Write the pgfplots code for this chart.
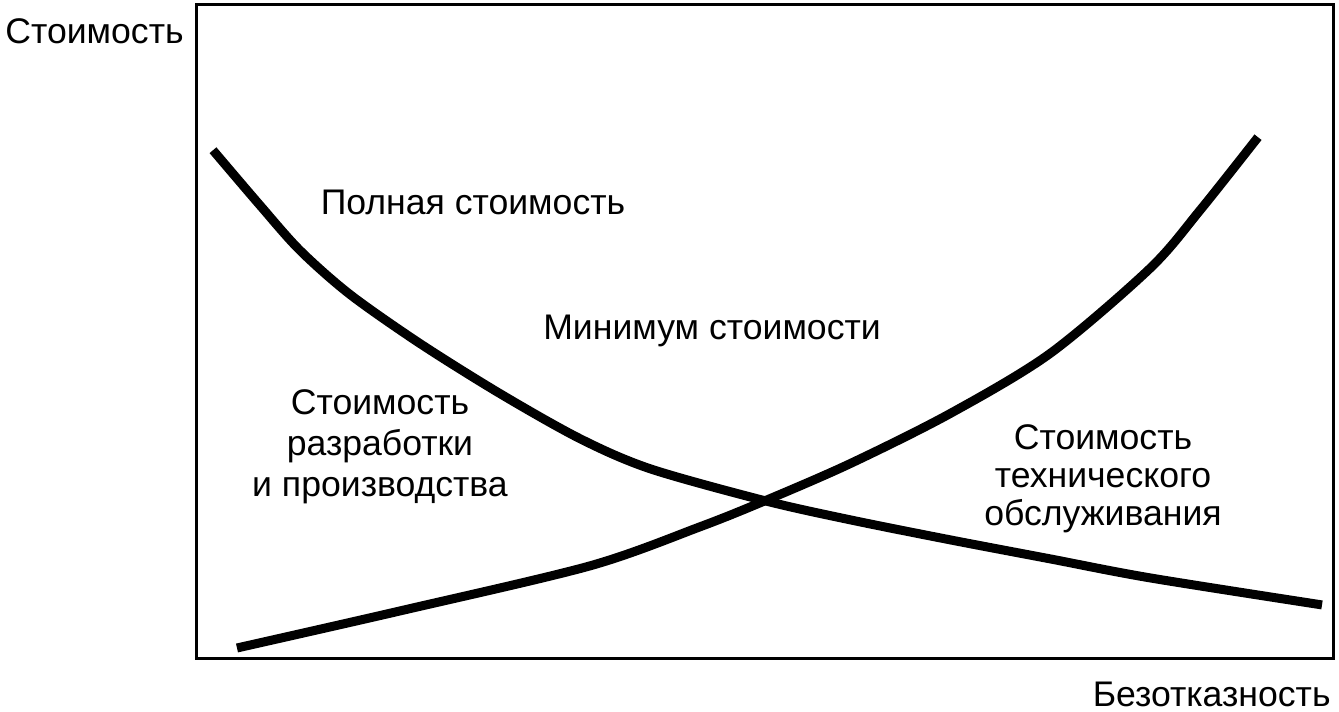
\documentclass[border=0pt]{standalone}
\usepackage{pgfplots}
\pgfplotsset{compat=1.18}
\usepackage{fontspec}
\setmainfont{Liberation Sans}
\begin{document}
\begin{tikzpicture}
\begin{axis}[
  scale only axis, width=568pt, height=327pt,
  xmin=197, xmax=1333, ymin=4, ymax=657, y dir=reverse,
  xtick=\empty, ytick=\empty, clip=false,
  axis line style={line width=1.5pt},
  font=\fontsize{17.8}{20.5}\selectfont
]
\path (axis cs:0,0) rectangle (axis cs:1339,710);
\addplot[line width=4.5pt, smooth, tension=0.5] coordinates {
(213,150) (260,205) (300,250) (350,294) (420,343) (500,393) (580,438) (650,468) (765,500) (850,519) (950,539) (1050,558) (1150,577) (1322,604)};
\addplot[line width=4.5pt, smooth, tension=0.5] coordinates {
(237,647) (400,610) (590,565) (700,526) (765,500) (850,463) (950,413) (1050,353) (1150,268) (1200,210) (1258,137)};
\node[anchor=west, inner sep=0pt] at (axis cs:5,31) {Стоимость};
\node[anchor=east, inner sep=0pt] at (axis cs:1331,693) {Безотказность};
\node at (axis cs:473,202) {Полная стоимость};
\node at (axis cs:712,330) {Минимум стоимости};
\node[align=center] at (axis cs:380,446) {Стоимость\\разработки\\и производства};
\node[align=center, font=\fontsize{17.8}{19}\selectfont] at (axis cs:1103,478) {Стоимость\\технического\\обслуживания};
\end{axis}
\end{tikzpicture}
\end{document}
